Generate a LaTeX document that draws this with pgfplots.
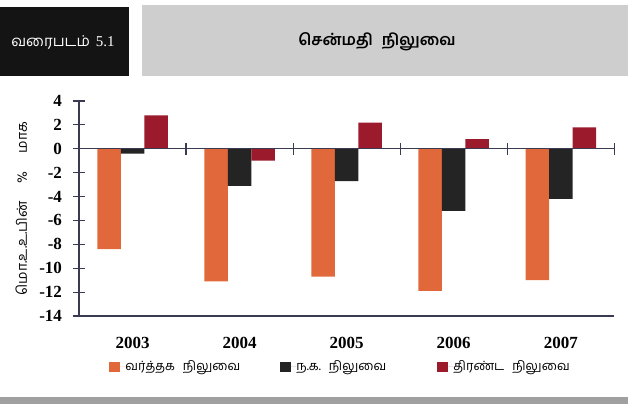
\documentclass[border=0pt]{standalone}
\usepackage{pgfplots}
\pgfplotsset{compat=1.18}
\usepackage{fontspec}
\setmainfont{Liberation Serif}
\newfontfamily\tamil[Script=Tamil]{Hind Madurai}
\definecolor{cOr}{HTML}{E0683A}
\definecolor{cBk}{HTML}{242424}
\definecolor{cRd}{HTML}{9B1A2C}
\definecolor{cGr}{HTML}{CECECE}
\definecolor{cBand}{HTML}{A0A0A0}
\definecolor{cAx}{HTML}{3A3A50}
\pgfplotsset{sq legend/.style={legend image code/.code={%
  \fill[##1,draw=none] (0pt,-2.65pt) rectangle (5.5pt,2.65pt);
  \path (0pt,0pt) -- (8pt,0pt);}}}
\begin{document}
\begin{tikzpicture}
\path[use as bounding box] (0,0) rectangle (314pt,202pt);
\fill[black!92] (0pt,164pt) rectangle (64.5pt,198.5pt);
\fill[cGr] (71pt,164pt) rectangle (314pt,199.5pt);
\node[white] at (31.5pt,181pt) {\fontsize{7.5}{9}\selectfont{\tamil வரைபடம்}\hspace{3pt}5.1};
\node at (188.5pt,181pt) {\fontsize{7.9}{10}\selectfont\tamil\bfseries சென்மதி\hspace{4.5pt}நிலுவை};
\fill[cBand] (0,0) rectangle (314pt,3.6pt);
\begin{axis}[
  at={(39.5pt,44pt)}, anchor=south west,
  scale only axis, width=267.65pt, height=107.5pt,
  xmin=-0.5, xmax=4.5, ymin=-14, ymax=4,
  axis lines=left,
  axis line style={-, cAx, line width=0.6pt},
  xtick={0,1,2,3,4},
  xticklabels={2003,2004,2005,2006,2007},
  xtick style={draw=none},
  ytick={-14,-12,...,4},
  ytick style={cAx, line width=0.6pt},
  major tick length=6pt, tick align=center,
  /pgf/number format/assume math mode=true,
  yticklabel style={font=\fontsize{8.5}{10}\selectfont\bfseries, xshift=-2pt},
  xticklabel style={font=\fontsize{8.5}{10}\selectfont\bfseries, anchor=base, yshift=-10.3pt},
  ylabel={\tamil மொ.உ.உ.பின்\hspace{9pt}\%\hspace{9pt}மாக},
  ylabel style={at={(axis description cs:-0.108,0.5)}, anchor=center, font=\fontsize{7}{8}\selectfont},
  ybar=0pt, bar width=11.75pt,
  legend columns=3,
  legend style={at={(0.056,-0.237)}, anchor=west, draw=none, fill=none,
    inner sep=0pt, font=\fontsize{6.4}{8}\selectfont\tamil,
    nodes={inner xsep=0pt}},
  clip=false,
]
\addplot[fill=cOr, draw=none, sq legend] coordinates {(0,-8.4) (1,-11.1) (2,-10.7) (3,-11.9) (4,-11.0)};
\addlegendentry{\makebox[77.5pt][l]{வர்த்தக\hspace{4pt}நிலுவை}}
\addplot[fill=cBk, draw=none, sq legend] coordinates {(0,-0.4) (1,-3.1) (2,-2.7) (3,-5.2) (4,-4.2)};
\addlegendentry{\makebox[70.5pt][l]{ந.க.\hspace{4pt}நிலுவை}}
\addplot[fill=cRd, draw=none, sq legend] coordinates {(0,2.8) (1,-1.0) (2,2.2) (3,0.8) (4,1.8)};
\addlegendentry{திரண்ட\hspace{4pt}நிலுவை}
\draw[cAx, line width=0.6pt] (axis cs:-0.5,0) -- (axis cs:4.5,0);
\pgfplotsinvokeforeach{0.5,1.5,2.5,3.5,4.5}{
  \draw[cAx, line width=0.6pt] (axis cs:#1,-0.5) -- (axis cs:#1,0.5);
}
\end{axis}
\end{tikzpicture}
\end{document}
